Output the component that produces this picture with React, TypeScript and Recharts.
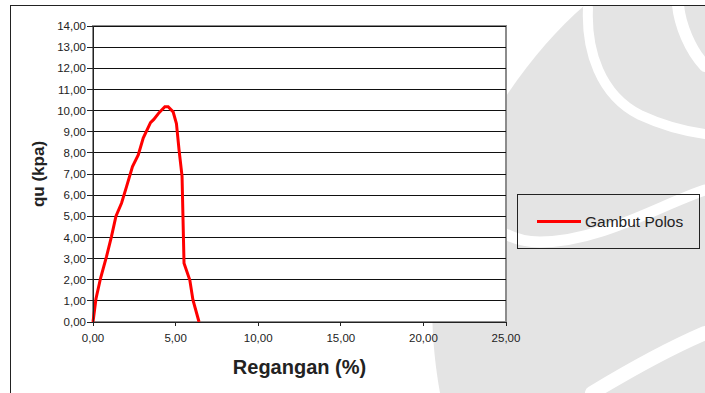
import React from "react";
import {
  LineChart,
  Line,
  XAxis,
  YAxis,
  CartesianGrid,
  ReferenceArea,
  ReferenceLine,
  Label,
} from "recharts";

// Unconfined compression test, plain peat sample
const regangan = [0, 0.18, 0.46, 0.82, 1.12, 1.39, 1.73, 2.03, 2.39, 2.74, 3.04, 3.48, 3.68, 4.0, 4.35, 4.55, 4.85, 5.05, 5.21, 5.39, 5.51, 5.86, 6.05, 6.42];
const quKpa = [0, 1.1, 2.08, 3.1, 4.05, 5.0, 5.63, 6.4, 7.35, 7.9, 8.7, 9.43, 9.58, 9.9, 10.18, 10.18, 9.94, 9.39, 8.13, 6.9, 2.78, 1.98, 1.04, 0];

const xTicks = [0, 5, 10, 15, 20, 25];
const yTicks = [0, 1, 2, 3, 4, 5, 6, 7, 8, 9, 10, 11, 12, 13, 14];

const seriesName = "Gambut Polos";
const xTitle = "Regangan (%)";
const yTitle = "qu (kpa)";

const data = regangan.map((x, i) => ({ x, qu: quKpa[i] }));

const FONT = "'Liberation Sans', Arial, sans-serif";
const fmt = (v: number) => v.toFixed(2).replace(".", ",");

// keep grid and axis lines on whole pixels
const crisp = `
  .recharts-reference-line line,
  .recharts-cartesian-axis line,
  .recharts-reference-area path { shape-rendering: crispEdges; }
`;

// faint logo watermark behind the chart
const Watermark = () => (
  <svg width={705} height={393} style={{ position: "absolute", left: 0, top: 0 }}>
    <path
      d="M 585 5 C 520 60, 450 170, 435 260 C 428 320, 436 370, 440 393 L 705 393 L 705 5 Z"
      fill="#e4e4e4"
    />
    <g fill="none" stroke="#ffffff" strokeLinecap="round">
      <path d="M 588 8 C 586 50, 600 95, 640 115 C 668 128, 690 132, 705 134" strokeWidth={10} />
      <path d="M 678 5 C 680 25, 690 50, 705 66" strokeWidth={12} />
      <path d="M 465 163 C 470 215, 500 242, 540 242 C 600 242, 660 205, 705 190" strokeWidth={11} />
      <path d="M 592 393 C 630 370, 670 348, 705 333" strokeWidth={14} />
    </g>
  </svg>
);

export default function App() {
  return (
    <div
      style={{
        position: "absolute",
        left: 0,
        top: 0,
        width: 705,
        height: 393,
        background: "#fff",
        overflow: "hidden",
        fontFamily: FONT,
      }}
    >
      <style>{crisp}</style>
      <Watermark />
      <div
        style={{
          position: "absolute",
          left: 10,
          top: 5,
          width: 720,
          height: 400,
          borderTop: "1.5px solid #222",
          borderLeft: "1.5px solid #222",
        }}
      />
      <div style={{ position: "absolute", left: 0, top: 0 }}>
        <LineChart
          width={705}
          height={393}
          data={data}
          margin={{ top: 26, right: 199, bottom: 41, left: 0 }}
        >
          <CartesianGrid
            horizontal={false}
            vertical={false}
            fill="#ffffff"
            fillOpacity={1}
          />
          {/* one gridline per y tick */}
          {yTicks.map((t) => (
            <ReferenceLine key={t} y={t} stroke="#111" strokeWidth={1} />
          ))}
          <ReferenceArea
            x1={0}
            x2={25}
            y1={0}
            y2={14}
            fill="none"
            stroke="#8c8c8c"
            strokeWidth={1.5}
            ifOverflow="visible"
          />
          <XAxis
            type="number"
            dataKey="x"
            domain={[0, 25]}
            ticks={xTicks}
            tickFormatter={fmt}
            interval={0}
            height={30}
            tickSize={4}
            tickMargin={8}
            stroke="#222"
            tick={{ fontSize: 11.5, fill: "#222", fontFamily: FONT }}
          >
            <Label
              value={xTitle}
              position="bottom"
              offset={8}
              style={{ fontSize: 20, fontWeight: 700, fill: "#222", fontFamily: FONT }}
            />
          </XAxis>
          <YAxis
            type="number"
            domain={[0, 14]}
            ticks={yTicks}
            tickFormatter={fmt}
            interval={0}
            width={93}
            tickSize={6}
            tickMargin={1}
            stroke="#222"
            tick={{ fontSize: 11.5, fill: "#222", fontFamily: FONT }}
          >
            <Label
              value={yTitle}
              angle={-90}
              position="insideLeft"
              offset={38}
              style={{ fontSize: 17, fontWeight: 700, fill: "#222", fontFamily: FONT, textAnchor: "middle" }}
            />
          </YAxis>
          <Line
            type="linear"
            dataKey="qu"
            name={seriesName}
            stroke="#ff0000"
            strokeWidth={3}
            dot={false}
            isAnimationActive={false}
          />
        </LineChart>
      </div>
      <div
        style={{
          position: "absolute",
          left: 517,
          top: 194,
          width: 183,
          height: 55,
          border: "1px solid #222",
          boxSizing: "border-box",
          display: "flex",
          alignItems: "center",
        }}
      >
        <div style={{ marginLeft: 19, width: 44, height: 3, background: "#ff0000" }} />
        <span style={{ marginLeft: 4, fontSize: 15.5, color: "#222" }}>{seriesName}</span>
      </div>
    </div>
  );
}
